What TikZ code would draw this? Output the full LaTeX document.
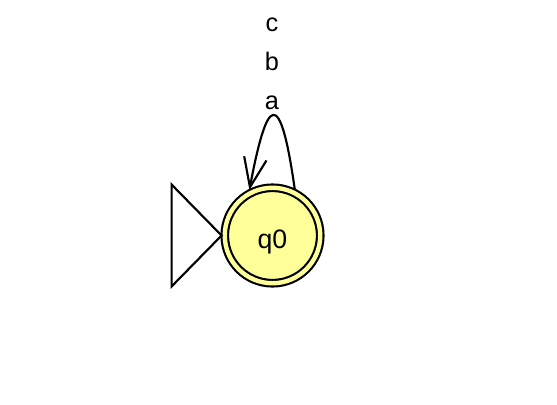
\documentclass[tikz,border=0pt]{standalone}
\usepackage{fontspec}
\setmainfont{Liberation Sans}
\usetikzlibrary{arrows.meta}
\definecolor{statefill}{RGB}{255,255,153}
\tikzset{
  accepting/.style = {circle, draw=black, line width=1.6pt, fill=statefill, double=statefill, double distance=3.3pt, minimum size=71.6pt, inner sep=0pt, outer sep=2.4pt, text height=20pt, text depth=0pt, font=\fontsize{20}{22}\selectfont},
  lbl/.style = {anchor=base, inner sep=0pt, font=\fontsize{19}{21}\selectfont},
  arrow/.style = {line width=1.6pt, -{Straight Barb[length=22pt, width=17pt, line width=1.6pt]}}
}
\begin{document}
\begin{tikzpicture}[x=0.75pt, y=-0.75pt]
\useasboundingbox (0,0) rectangle (557,404);

\node (q0) [accepting] at (272.5,235.5) {q0};

% start marker
\draw [line width=1.6pt, line join=miter] (q0.west) -- ++(-50,-51) -- ++(0,102) -- cycle;

% self loop
\draw [arrow] (q0.64) .. controls (280,85) and (267,96) .. (q0.117);

\node (la) [lbl] at (272,109) {a};
\node (lb) [lbl] at (272,70) {b};
\node (lc) [lbl] at (272,31) {c};
\end{tikzpicture}
\end{document}
